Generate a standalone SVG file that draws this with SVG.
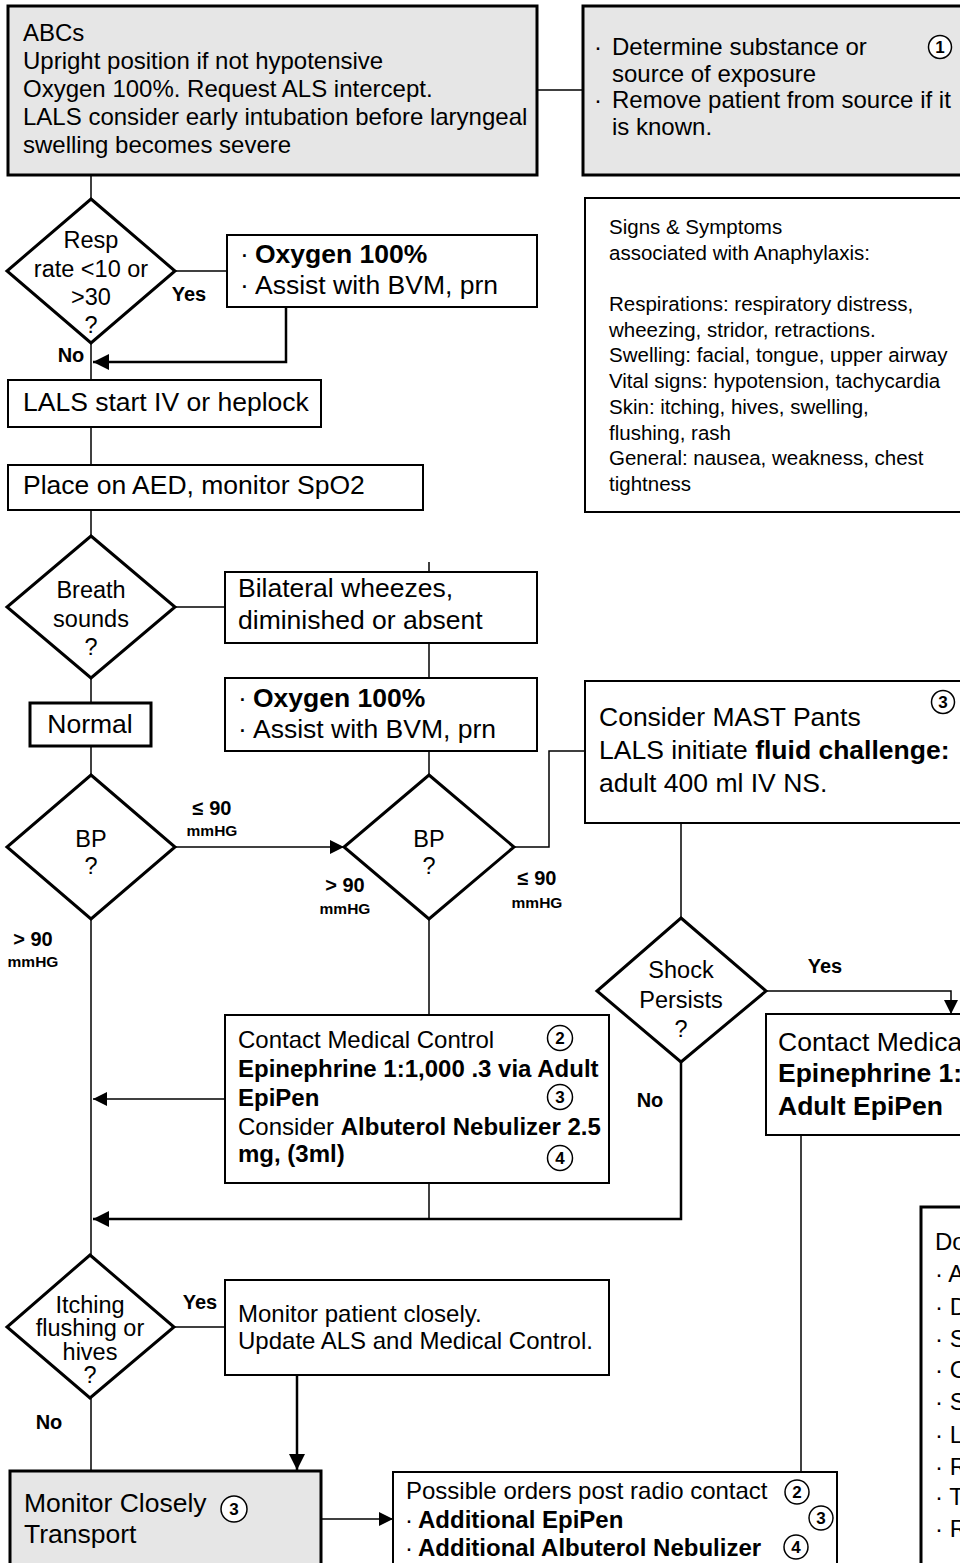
<svg xmlns="http://www.w3.org/2000/svg" width="960" height="1563" viewBox="0 0 960 1563">
<defs>
<style>
.box{fill:#fff;stroke:#000;stroke-width:2}
.gbox{fill:#e6e6e6;stroke:#000;stroke-width:3}
.nbox{fill:#fff;stroke:#000;stroke-width:3}
.dia{fill:#fff;stroke:#000;stroke-width:3}
.ln{fill:none;stroke:#000;stroke-width:1.5}
.lnT{fill:none;stroke:#000;stroke-width:2.5}
text{font-family:"Liberation Sans",Arial,sans-serif;fill:#000}
.s24{font-size:24px}
.s26{font-size:26.5px}
.s23{font-size:23.5px}
.s20{font-size:20.5px}
.b{font-weight:bold}
.m{text-anchor:middle}
.lbl{font-size:20px;font-weight:bold;text-anchor:middle}
.mm{font-size:15.5px;font-weight:bold;text-anchor:middle}
.circ{fill:#fff;stroke:#000;stroke-width:1.5}
.cn{font-size:17px;font-weight:bold;text-anchor:middle}
</style>
<marker id="arr" markerUnits="userSpaceOnUse" markerWidth="14" markerHeight="14" refX="14" refY="7" orient="auto">
<path d="M0,0 L14,7 L0,14 z" fill="#000"/>
</marker>
<marker id="arrL" markerUnits="userSpaceOnUse" markerWidth="16" markerHeight="16" refX="16" refY="8" orient="auto">
<path d="M0,0 L16,8 L0,16 z" fill="#000"/>
</marker>
</defs>

<g id="connectors">
<line class="ln" x1="537" y1="90" x2="583" y2="90"/>
<line class="ln" x1="91" y1="175" x2="91" y2="199"/>
<line class="ln" x1="175" y1="271" x2="227" y2="271"/>
<line class="ln" x1="91" y1="343" x2="91" y2="380"/>
<path class="lnT" d="M286,307 V362 H93" marker-end="url(#arrL)"/>
<line class="ln" x1="91" y1="427" x2="91" y2="465"/>
<line class="ln" x1="91" y1="510" x2="91" y2="536"/>
<line class="ln" x1="175" y1="607" x2="225" y2="607"/>
<line class="ln" x1="429" y1="562" x2="429" y2="572"/>
<line class="ln" x1="429" y1="643" x2="429" y2="678"/>
<line class="ln" x1="91" y1="678" x2="91" y2="703"/>
<line class="ln" x1="91" y1="746" x2="91" y2="775"/>
<line class="ln" x1="175" y1="847" x2="344" y2="847" marker-end="url(#arr)"/>
<line class="ln" x1="429" y1="751" x2="429" y2="775"/>
<path class="ln" d="M514,847 H549 V751 H585"/>
<line class="ln" x1="681" y1="823" x2="681" y2="918"/>
<path class="ln" d="M766,991 H951 V1014" marker-end="url(#arr)"/>
<line class="ln" x1="429" y1="919" x2="429" y2="1015"/>
<line class="ln" x1="91" y1="919" x2="91" y2="1255"/>
<line class="ln" x1="225" y1="1099" x2="93" y2="1099" marker-end="url(#arr)"/>
<line class="ln" x1="429" y1="1183" x2="429" y2="1219"/>
<path class="lnT" d="M681,1062 V1219 H93" marker-end="url(#arrL)"/>
<line class="ln" x1="174" y1="1327" x2="225" y2="1327"/>
<line class="lnT" x1="297" y1="1375" x2="297" y2="1470" marker-end="url(#arrL)"/>
<line class="ln" x1="91" y1="1398" x2="91" y2="1471"/>
<line class="ln" x1="321" y1="1519" x2="393" y2="1519" marker-end="url(#arr)"/>
<line class="ln" x1="801" y1="1135" x2="801" y2="1472"/>
</g>

<g id="n-abcs">
<rect class="gbox" x="8" y="6" width="529" height="169"/>
<text class="s24" x="23" y="41">ABCs</text>
<text class="s24" x="23" y="69">Upright position if not hypotensive</text>
<text class="s24" x="23" y="97">Oxygen 100%. Request ALS intercept.</text>
<text class="s24" x="23" y="125">LALS consider early intubation before laryngeal</text>
<text class="s24" x="23" y="153">swelling becomes severe</text>
</g>

<g id="n-determine">
<rect class="gbox" x="583" y="6" width="390" height="169"/>
<text class="s24" x="594" y="55">·</text>
<text class="s24" x="612" y="55">Determine substance or</text>
<text class="s24" x="612" y="82">source of exposure</text>
<text class="s24" x="594" y="108">·</text>
<text class="s24" x="612" y="108">Remove patient from source if it</text>
<text class="s24" x="612" y="135">is known.</text>
<circle class="circ" cx="940" cy="47" r="11.5"/>
<text class="cn" x="940" y="53">1</text>
</g>

<g id="n-resp">
<polygon class="dia" points="91,199 175,271 91,343 7,271"/>
<text class="s23 m" x="91" y="248">Resp</text>
<text class="s23 m" x="91" y="277">rate &lt;10 or</text>
<text class="s23 m" x="91" y="305">&gt;30</text>
<text class="s23 m" x="91" y="333">?</text>
<text class="lbl" x="189" y="301">Yes</text>
<text class="lbl" x="71" y="362">No</text>
</g>

<g id="n-oxygen1">
<rect class="box" x="227" y="235" width="310" height="72"/>
<text class="s26" x="240" y="263">·</text>
<text class="s26 b" x="255" y="263">Oxygen 100%</text>
<text class="s26" x="240" y="294">·</text>
<text class="s26" x="255" y="294">Assist with BVM, prn</text>
</g>

<g id="n-signs">
<rect class="box" x="585" y="198" width="390" height="314"/>
<text class="s20" x="609" y="234">Signs &amp; Symptoms</text>
<text class="s20" x="609" y="260">associated with Anaphylaxis:</text>
<text class="s20" x="609" y="311">Respirations: respiratory distress,</text>
<text class="s20" x="609" y="337">wheezing, stridor, retractions.</text>
<text class="s20" x="609" y="362">Swelling: facial, tongue, upper airway</text>
<text class="s20" x="609" y="388">Vital signs: hypotension, tachycardia</text>
<text class="s20" x="609" y="414">Skin: itching, hives, swelling,</text>
<text class="s20" x="609" y="440">flushing, rash</text>
<text class="s20" x="609" y="465">General: nausea, weakness, chest</text>
<text class="s20" x="609" y="491">tightness</text>
</g>

<g id="n-iv">
<rect class="box" x="8" y="380" width="313" height="47"/>
<text class="s26" x="23" y="411">LALS start IV or heplock</text>
</g>

<g id="n-aed">
<rect class="box" x="8" y="465" width="415" height="45"/>
<text class="s26" x="23" y="494">Place on AED, monitor SpO2</text>
</g>

<g id="n-breath">
<polygon class="dia" points="91,536 175,607 91,678 7,607"/>
<text class="s23 m" x="91" y="598">Breath</text>
<text class="s23 m" x="91" y="627">sounds</text>
<text class="s23 m" x="91" y="655">?</text>
</g>

<g id="n-bilateral">
<rect class="box" x="225" y="572" width="312" height="71"/>
<text class="s26" x="238" y="597">Bilateral wheezes,</text>
<text class="s26" x="238" y="629">diminished or absent</text>
</g>

<g id="n-normal">
<rect class="nbox" x="30" y="703" width="121" height="43"/>
<text class="s26 m" x="90" y="733">Normal</text>
</g>

<g id="n-oxygen2">
<rect class="box" x="225" y="678" width="312" height="73"/>
<text class="s26" x="238" y="707">·</text>
<text class="s26 b" x="253" y="707">Oxygen 100%</text>
<text class="s26" x="238" y="738">·</text>
<text class="s26" x="253" y="738">Assist with BVM, prn</text>
</g>

<g id="n-mast">
<rect class="box" x="585" y="681" width="390" height="142"/>
<text class="s26" x="599" y="726">Consider MAST Pants</text>
<text class="s26" x="599" y="759">LALS initiate <tspan class="b">fluid challenge:</tspan></text>
<text class="s26" x="599" y="792">adult 400 ml IV NS.</text>
<circle class="circ" cx="943" cy="702" r="11.5"/>
<text class="cn" x="943" y="708">3</text>
</g>

<g id="n-bp1">
<polygon class="dia" points="91,775 175,847 91,919 7,847"/>
<text class="s23 m" x="91" y="847">BP</text>
<text class="s23 m" x="91" y="874">?</text>
<text class="lbl" x="212" y="815">≤ 90</text>
<text class="mm" x="212" y="836">mmHG</text>
<text class="lbl" x="33" y="946">&gt; 90</text>
<text class="mm" x="33" y="967">mmHG</text>
</g>

<g id="n-bp2">
<polygon class="dia" points="429,775 514,847 429,919 344,847"/>
<text class="s23 m" x="429" y="847">BP</text>
<text class="s23 m" x="429" y="874">?</text>
<text class="lbl" x="345" y="892">&gt; 90</text>
<text class="mm" x="345" y="914">mmHG</text>
<text class="lbl" x="537" y="885">≤ 90</text>
<text class="mm" x="537" y="908">mmHG</text>
</g>

<g id="n-shock">
<polygon class="dia" points="681,918 766,991 681,1062 597,991"/>
<text class="s23 m" x="681" y="978">Shock</text>
<text class="s23 m" x="681" y="1008">Persists</text>
<text class="s23 m" x="681" y="1037">?</text>
<text class="lbl" x="825" y="973">Yes</text>
<text class="lbl" x="650" y="1107">No</text>
</g>

<g id="n-contact1">
<rect class="box" x="225" y="1015" width="384" height="168"/>
<text class="s24" x="238" y="1048">Contact Medical Control</text>
<text class="s24 b" x="238" y="1077">Epinephrine 1:1,000 .3 via Adult</text>
<text class="s24 b" x="238" y="1106">EpiPen</text>
<text class="s24" x="238" y="1135">Consider <tspan class="b">Albuterol Nebulizer 2.5</tspan></text>
<text class="s24 b" x="238" y="1162">mg, (3ml)</text>
<circle class="circ" cx="560" cy="1038" r="12.5"/>
<text class="cn" x="560" y="1044">2</text>
<circle class="circ" cx="560" cy="1097" r="12.5"/>
<text class="cn" x="560" y="1103">3</text>
<circle class="circ" cx="560" cy="1158" r="12.5"/>
<text class="cn" x="560" y="1164">4</text>
</g>

<g id="n-contact2">
<rect class="box" x="766" y="1014" width="210" height="121"/>
<text class="s26" x="778" y="1051">Contact Medical</text>
<text class="s26 b" x="778" y="1082">Epinephrine 1:</text>
<text class="s26 b" x="778" y="1115">Adult EpiPen</text>
</g>

<g id="n-itching">
<polygon class="dia" points="90,1255 174,1327 90,1398 7,1327"/>
<text class="s23 m" x="90" y="1313">Itching</text>
<text class="s23 m" x="90" y="1336">flushing or</text>
<text class="s23 m" x="90" y="1360">hives</text>
<text class="s23 m" x="90" y="1383">?</text>
<text class="lbl" x="200" y="1309">Yes</text>
<text class="lbl" x="49" y="1429">No</text>
</g>

<g id="n-monitorpt">
<rect class="box" x="225" y="1280" width="384" height="95"/>
<text class="s24" x="238" y="1322">Monitor patient closely.</text>
<text class="s24" x="238" y="1349">Update ALS and Medical Control.</text>
</g>

<g id="n-monitor">
<rect class="gbox" x="10" y="1471" width="311" height="100"/>
<text class="s26" x="24" y="1512">Monitor Closely</text>
<text class="s26" x="24" y="1543">Transport</text>
<circle class="circ" cx="234" cy="1509" r="13"/>
<text class="cn" x="234" y="1515">3</text>
</g>

<g id="n-orders">
<rect class="box" x="393" y="1472" width="444" height="100"/>
<text class="s24" x="406" y="1499">Possible orders post radio contact</text>
<text class="s24" x="405" y="1528">·</text>
<text class="s24 b" x="418" y="1528">Additional EpiPen</text>
<text class="s24" x="405" y="1556">·</text>
<text class="s24 b" x="418" y="1556">Additional Albuterol Nebulizer</text>
<circle class="circ" cx="797" cy="1492" r="12"/>
<text class="cn" x="797" y="1498">2</text>
<circle class="circ" cx="821" cy="1518" r="12"/>
<text class="cn" x="821" y="1524">3</text>
<circle class="circ" cx="796" cy="1547" r="12"/>
<text class="cn" x="796" y="1553">4</text>
</g>

<g id="n-do">
<rect class="nbox" x="921" y="1207" width="60" height="370"/>
<text class="s24" x="935" y="1250">Do</text>
<text class="s24" x="935" y="1282">· A</text>
<text class="s24" x="935" y="1315">· D</text>
<text class="s24" x="935" y="1347">· S</text>
<text class="s24" x="935" y="1378">· C</text>
<text class="s24" x="935" y="1410">· S</text>
<text class="s24" x="935" y="1443">· L</text>
<text class="s24" x="935" y="1475">· R</text>
<text class="s24" x="935" y="1505">· T</text>
<text class="s24" x="935" y="1537">· R</text>
</g>
</svg>
